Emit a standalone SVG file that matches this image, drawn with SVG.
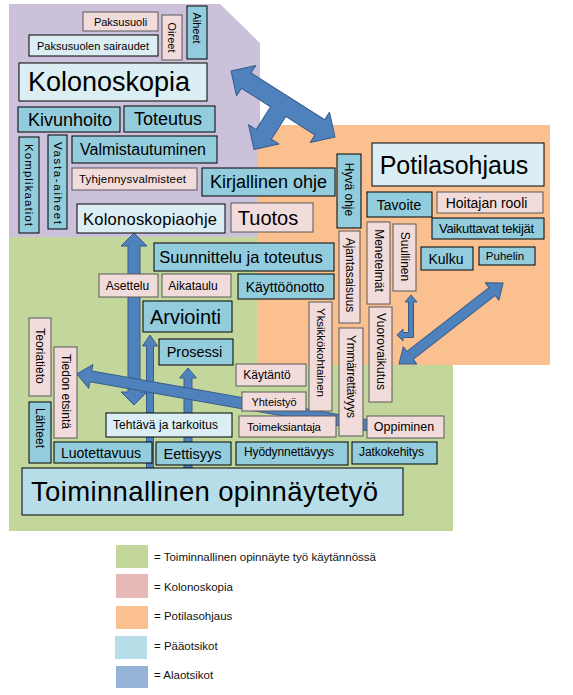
<svg xmlns="http://www.w3.org/2000/svg" width="573" height="695" viewBox="0 0 573 695">
<style>
text{font-family:"Liberation Sans",Arial,sans-serif;text-anchor:middle;dominant-baseline:central;fill:#000}
.pk rect{fill:#f2dcdb;stroke:#595959;stroke-width:1}
.lb rect{fill:#dbeef3;stroke:#000;stroke-width:1}
.bl rect{fill:#93cddd;stroke:#000;stroke-width:1}
.main rect{fill:#b7dee8;stroke:#000;stroke-width:1}
.arr{fill:#4f81bd;stroke:#385d8a;stroke-width:1;stroke-linejoin:round}
.leg text{text-anchor:start;dominant-baseline:auto;font-size:11.5px;fill:#111}
</style>
<rect width="573" height="695" fill="#fff"/>
<g id="regions">
<polygon points="9,4 220,4 260,43 260,237 9,237" fill="#ccc1da"/>
<polygon points="9,237 258,237 258,365 453,365 453,531 9,531" fill="#c3d69b"/>
<rect x="258" y="125" width="292" height="240" fill="#fac090"/>
</g>
<g id="connectors">
<path class="arr" transform="translate(283,104) rotate(32.4)" d="M-61.6,0 L-43.6,-18 L-43.6,-9 L43.6,-9 L43.6,-18 L61.6,0 L43.6,18 L43.6,9 L9,9 L9,36 L18,36 L0,54 L-18,36 L-9,36 L-9,9 L-43.6,9 L-43.6,18 Z"/>
<path class="arr" d="M134,233 L147,246 L140,246 L140,392 L147,392 L134,405 L121,392 L128,392 L128,246 L121,246 Z"/>
<path class="arr" d="M150,335 L157.5,346 L153.5,346 L153.5,470 L146.5,470 L146.5,346 L142.5,346 Z"/>
<path class="arr" d="M188,368 L196.5,378 L192,378 L192,470 L184,470 L184,378 L179.5,378 Z"/>
<path class="arr" transform="translate(77,374) rotate(10)" d="M0,0 L14,-12 L14,-5.5 L300,-5.5 L300,5.5 L14,5.5 L14,12 Z"/>
<path class="arr" d="M411,295 L417,302 L413.5,302 L413.5,337.5 L403,337.5 L403,341 L397,335 L403,329 L403,332.5 L408.5,332.5 L408.5,302 L405,302 Z"/>
<path class="arr" transform="translate(399,364) rotate(-37.9)" d="M0,0 L14,-11 L14,-5 L118,-5 L118,-11 L132,0 L118,11 L118,5 L14,5 L14,11 Z"/>
</g>
<g id="nodes">
<g id="paksusuoli" class="pk"><rect x="83" y="12" width="75" height="19"/><text x="120.5" y="21.5" font-size="11">Paksusuoli</text></g>
<g id="paksusuolen-sairaudet" class="lb"><rect x="29" y="35" width="129" height="21"/><text x="93" y="45.5" font-size="11" textLength="112">Paksusuolen sairaudet</text></g>
<g id="oireet" class="pk"><rect x="162" y="15" width="20" height="45"/><text x="172" y="37.5" font-size="11" transform="rotate(90,172,37.5)">Oireet</text></g>
<g id="aiheet" class="bl"><rect x="187" y="6" width="20" height="53"/><text x="197" y="28" font-size="11" transform="rotate(90,197,28)">Aiheet</text></g>
<g id="kolonoskopia" class="lb"><rect x="19" y="63" width="188" height="38"/><text x="109" y="82" font-size="27">Kolonoskopia</text></g>
<g id="kivunhoito" class="bl"><rect x="18" y="107" width="102" height="25"/><text x="70" y="119.5" font-size="18">Kivunhoito</text></g>
<g id="toteutus" class="bl"><rect x="124" y="106" width="91" height="26"/><text x="168" y="119" font-size="18">Toteutus</text></g>
<g id="komplikaatiot" class="bl"><rect x="19" y="137" width="20" height="96"/><text x="29" y="185" font-size="11.5" textLength="82" transform="rotate(90,29,185)">Komplikaatiot</text></g>
<g id="vasta-aiheet" class="bl"><rect x="48" y="135" width="19" height="94"/><text x="57.5" y="183" font-size="11.5" textLength="82" transform="rotate(90,57.5,183)">Vasta-aiheet</text></g>
<g id="valmistautuminen" class="bl"><rect x="72" y="136" width="145" height="27"/><text x="143" y="149.5" font-size="16">Valmistautuminen</text></g>
<g id="tyhjennysvalmisteet" class="pk"><rect x="72" y="168" width="125" height="22"/><text x="132.5" y="179" font-size="11.5" textLength="107">Tyhjennysvalmisteet</text></g>
<g id="kirjallinen-ohje" class="bl"><rect x="202" y="168" width="133" height="28"/><text x="268.5" y="182" font-size="18">Kirjallinen ohje</text></g>
<g id="kolonoskopiaohje" class="lb"><rect x="77" y="204" width="148" height="29"/><text x="150" y="218.5" font-size="16.5" textLength="134">Kolonoskopiaohje</text></g>
<g id="tuotos" class="pk"><rect x="231" y="203" width="82" height="29"/><text x="268" y="217.5" font-size="20">Tuotos</text></g>
<g id="hyva-ohje" class="bl"><rect x="337" y="154" width="24" height="74"/><text x="349" y="189.5" font-size="12" transform="rotate(90,349,189.5)">Hyvä ohje</text></g>
<g id="potilasohjaus" class="lb"><rect x="372" y="143" width="172" height="43"/><text x="454" y="164.5" font-size="25">Potilasohjaus</text></g>
<g id="tavoite" class="bl"><rect x="367" y="192" width="65" height="25"/><text x="399" y="204.5" font-size="14">Tavoite</text></g>
<g id="hoitajan-rooli" class="pk"><rect x="437" y="192" width="106" height="21"/><text x="486.5" y="202.5" font-size="14">Hoitajan rooli</text></g>
<g id="vaikuttavat-tekijat" class="bl"><rect x="432" y="218" width="112" height="21"/><text x="486.5" y="228.5" font-size="13" textLength="95">Vaikuttavat tekijät</text></g>
<g id="menetelmat" class="pk"><rect x="367" y="222" width="23" height="82"/><text x="378.5" y="260.5" font-size="12" transform="rotate(90,378.5,260.5)">Menetelmät</text></g>
<g id="suullinen" class="pk"><rect x="393" y="224" width="23" height="67"/><text x="404.5" y="256.5" font-size="12" transform="rotate(90,404.5,256.5)">Suullinen</text></g>
<g id="kulku" class="bl"><rect x="421" y="247" width="52" height="23"/><text x="446" y="258.5" font-size="14">Kulku</text></g>
<g id="puhelin" class="bl"><rect x="479" y="247" width="56" height="18"/><text x="505" y="256" font-size="11.5">Puhelin</text></g>
<g id="ajantasaisuus" class="pk"><rect x="339" y="231" width="21" height="92"/><text x="349.5" y="275" font-size="12" transform="rotate(90,349.5,275)">Ajantasaisuus</text></g>
<g id="suunnittelu-ja-toteutus" class="bl"><rect x="154" y="243" width="180" height="28"/><text x="241" y="257" font-size="16.5">Suunnittelu ja toteutus</text></g>
<g id="kayttoonotto" class="bl"><rect x="238" y="274" width="96" height="25"/><text x="285" y="286.5" font-size="14">Käyttöönotto</text></g>
<g id="yksikkokohtainen" class="pk"><rect x="309" y="302" width="23" height="109"/><text x="320.5" y="352.5" font-size="11.5" textLength="89" transform="rotate(90,320.5,352.5)">Yksikkökohtainen</text></g>
<g id="ymmarrettavyys" class="pk"><rect x="339" y="328" width="24" height="108"/><text x="351" y="376.5" font-size="12" textLength="83" transform="rotate(90,351,376.5)">Ymmärrettävyys</text></g>
<g id="vuorovaikutus" class="pk"><rect x="369" y="307" width="23" height="95"/><text x="380.5" y="351.5" font-size="12" textLength="77" transform="rotate(90,380.5,351.5)">Vuorovaikutus</text></g>
<g id="asettelu" class="pk"><rect x="99" y="274" width="59" height="23"/><text x="127.5" y="285.5" font-size="12">Asettelu</text></g>
<g id="aikataulu" class="pk"><rect x="162" y="274" width="69" height="23"/><text x="193" y="285.5" font-size="12">Aikataulu</text></g>
<g id="arviointi" class="bl"><rect x="143" y="301" width="89" height="31"/><text x="185.5" y="316.5" font-size="20">Arviointi</text></g>
<g id="prosessi" class="bl"><rect x="159" y="339" width="74" height="26"/><text x="194.5" y="352" font-size="14.5">Prosessi</text></g>
<g id="teoriatieto" class="pk"><rect x="29" y="318" width="22" height="78"/><text x="40" y="356" font-size="12" transform="rotate(90,40,356)">Teoriatieto</text></g>
<g id="tiedon-etsinta" class="pk"><rect x="54" y="347" width="23" height="91"/><text x="65.5" y="391.5" font-size="12" transform="rotate(90,65.5,391.5)">Tiedon etsintä</text></g>
<g id="lahteet" class="bl"><rect x="29" y="402" width="22" height="61"/><text x="40" y="428" font-size="12" transform="rotate(90,40,428)">Lähteet</text></g>
<g id="tehtava-ja-tarkoitus" class="lb"><rect x="106" y="413" width="126" height="24"/><text x="165.5" y="424.5" font-size="12" textLength="105">Tehtävä ja tarkoitus</text></g>
<g id="luotettavuus" class="bl"><rect x="54" y="442" width="98" height="21"/><text x="101" y="452.5" font-size="14">Luotettavuus</text></g>
<g id="eettisyys" class="bl"><rect x="156" y="442" width="75" height="23"/><text x="192.5" y="453.5" font-size="14.5">Eettisyys</text></g>
<g id="toiminnallinen-opinnaytetyo" class="main"><rect x="22" y="468" width="381" height="47"/><text x="204.5" y="491.5" font-size="27.5" textLength="347">Toiminnallinen opinnäytetyö</text></g>
<g id="kaytanto" class="pk"><rect x="236" y="364" width="70" height="22"/><text x="267" y="375" font-size="12">Käytäntö</text></g>
<g id="yhteistyo" class="pk"><rect x="242" y="392" width="64" height="19"/><text x="274" y="401.5" font-size="11">Yhteistyö</text></g>
<g id="toimeksiantaja" class="pk"><rect x="239" y="416" width="97" height="21"/><text x="284" y="426.5" font-size="11.5" textLength="74">Toimeksiantaja</text></g>
<g id="hyodynnettavyys" class="bl"><rect x="236" y="442" width="112" height="23"/><text x="289" y="452" font-size="12" textLength="90">Hyödynnettävyys</text></g>
<g id="jatkokehitys" class="bl"><rect x="352" y="442" width="85" height="22"/><text x="391.5" y="451.5" font-size="12" textLength="65">Jatkokehitys</text></g>
<g id="oppiminen" class="pk"><rect x="367" y="416" width="77" height="22"/><text x="404" y="427" font-size="12.5">Oppiminen</text></g>
</g>
<g id="legend" class="leg">
<rect x="116" y="545" width="32" height="23" fill="#c3d69b"/><text x="154" y="561">= Toiminnallinen opinnäyte työ käytännössä</text>
<rect x="116" y="574" width="32" height="24" fill="#e6b9b8"/><text x="154" y="591">= Kolonoskopia</text>
<rect x="116" y="606" width="32" height="23" fill="#fac090"/><text x="154" y="620">= Potilasohjaus</text>
<rect x="115" y="636" width="32" height="23" fill="#b7dee8"/><text x="154" y="650">= Pääotsikot</text>
<rect x="116" y="666" width="32" height="22" fill="#95b3d7"/><text x="154" y="679">= Alaotsikot</text>
</g>
</svg>
